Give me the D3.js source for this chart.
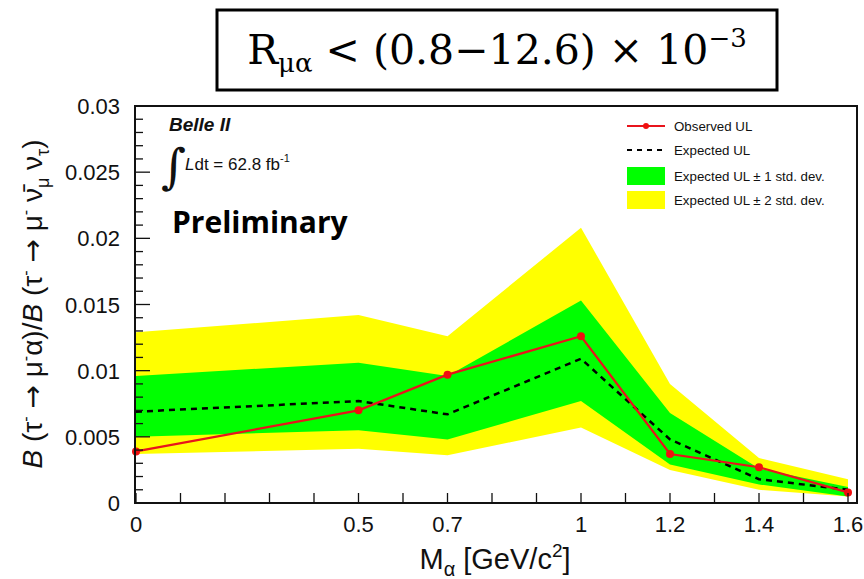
<!DOCTYPE html>
<html><head><meta charset="utf-8">
<script src="https://cdn.jsdelivr.net/npm/d3@7"></script>
<style>body{margin:0;background:#fff}svg{display:block}</style>
</head><body>
<svg id="c" width="864" height="579"></svg>
<script>
// ---- data ----
const masses = [0, 0.5, 0.7, 1.0, 1.2, 1.4, 1.6];
const observedUL = [0.0039, 0.0070, 0.0097, 0.0126, 0.0037, 0.0027, 0.0008];
const expectedUL = [0.0069, 0.0077, 0.0067, 0.0109, 0.0048, 0.0018, 0.0010];
const plus1sigma = [0.0096, 0.0106, 0.0096, 0.0153, 0.0068, 0.0026, 0.0012];
const minus1sigma = [0.0050, 0.0055, 0.0048, 0.0077, 0.0029, 0.0014, 0.0005];
const plus2sigma = [0.0129, 0.0142, 0.0126, 0.0208, 0.0090, 0.0034, 0.0018];
const minus2sigma = [0.0037, 0.0041, 0.0036, 0.0057, 0.0025, 0.0010, 0.0005];
const xTickLabels = ["0", "0.5", "0.7", "1", "1.2", "1.4", "1.6"];
const yTickLabels = ["0", "0.005", "0.01", "0.015", "0.02", "0.025", "0.03"];
const legendLabels = ["Observed UL", "Expected UL", "Expected UL \u00B1 1 std. dev.", "Expected UL \u00B1 2 std. dev."];

const svg = d3.select("#c");
const x = d3.scaleLinear().domain([0, 1.6]).range([136, 848]);
const y = d3.scaleLinear().domain([0, 0.03]).range([503, 106]);
const frame = {l: 135, r: 857, t: 106, b: 503};

// bands
const rows = masses.map((m, i) => ({m, o: observedUL[i], e: expectedUL[i], p1: plus1sigma[i], m1: minus1sigma[i], p2: plus2sigma[i], m2: minus2sigma[i]}));
svg.append("path").datum(rows).attr("fill", "#ffff00")
  .attr("d", d3.area().x(d => x(d.m)).y0(d => y(d.m2)).y1(d => y(d.p2)));
svg.append("path").datum(rows).attr("fill", "#00ff00")
  .attr("d", d3.area().x(d => x(d.m)).y0(d => y(d.m1)).y1(d => y(d.p1)));
svg.append("path").datum(rows).attr("fill", "none").attr("stroke", "#000").attr("stroke-width", 2.5)
  .attr("stroke-dasharray", "6,5")
  .attr("d", d3.line().x(d => x(d.m)).y(d => y(d.e)));
svg.append("path").datum(rows).attr("fill", "none").attr("stroke", "#e8141c").attr("stroke-width", 2.2)
  .attr("d", d3.line().x(d => x(d.m)).y(d => y(d.o)));
svg.selectAll("circle.obs").data(rows).join("circle").attr("class", "obs")
  .attr("cx", d => x(d.m)).attr("cy", d => y(d.o)).attr("r", 4).attr("fill", "#f01010");

// frame
svg.append("rect").attr("x", frame.l).attr("y", frame.t).attr("width", frame.r - frame.l).attr("height", frame.b - frame.t)
  .attr("fill", "none").attr("stroke", "#111").attr("stroke-width", 2);

// y ticks
const yMinor = d3.range(0, 0.03001, 0.001);
svg.append("g").selectAll("line").data(yMinor).join("line")
  .attr("x1", frame.l).attr("x2", (d, i) => frame.l + (i % 5 === 0 ? 15 : 8))
  .attr("y1", d => y(d)).attr("y2", d => y(d)).attr("stroke", "#111").attr("stroke-width", 1.3);
svg.append("g").selectAll("text").data(yTickLabels).join("text")
  .attr("x", 120).attr("y", (d, i) => y(i * 0.005) + 8).attr("text-anchor", "end")
  .attr("font-family", "Liberation Sans, Arial, sans-serif").attr("font-size", 22).attr("fill", "#111").text(d => d);

// x ticks
const xMinor = d3.range(0, 16.01, 1).map(v => v / 10);
svg.append("g").selectAll("line").data(xMinor).join("line")
  .attr("x1", d => x(d)).attr("x2", d => x(d)).attr("y1", frame.b).attr("y2", frame.b - 10)
  .attr("stroke", "#111").attr("stroke-width", 1.3);
svg.append("g").selectAll("text").data(xTickLabels).join("text")
  .attr("x", (d, i) => x(masses[i])).attr("y", 532).attr("text-anchor", "middle")
  .attr("font-family", "Liberation Sans, Arial, sans-serif").attr("font-size", 22).attr("fill", "#111").text(d => d);

// x label
const xl = svg.append("text").attr("x", 495).attr("y", 569).attr("text-anchor", "middle")
  .attr("font-family", "Liberation Sans, Arial, sans-serif").attr("font-size", 29).attr("fill", "#111");
xl.append("tspan").text("M");
xl.append("tspan").attr("font-size", 20).attr("dy", 7).text("\u03B1");
xl.append("tspan").attr("dy", -7).text(" [GeV/c");
xl.append("tspan").attr("font-size", 19).attr("dy", -12).text("2");
xl.append("tspan").attr("dy", 12).text("]");

// y label
const yl = svg.append("text").attr("transform", "translate(42,304) rotate(-90)").attr("text-anchor", "middle")
  .attr("font-family", "Liberation Sans, Arial, sans-serif").attr("font-size", 28).attr("fill", "#111");
const parts = [
  ["B", 0, "italic"], [" (\u03C4", 0], ["-", -11, null, 16], [" ", 11], ["\u2192", 0, null, null, "DejaVu Sans"], [" \u03BC", 0], ["-", -11, null, 16], ["\u03B1)/", 11],
  ["B", 0, "italic"], [" (\u03C4", 0], ["-", -11, null, 16], [" ", 11], ["\u2192", 0, null, null, "DejaVu Sans"], [" \u03BC", 0], ["-", -11, null, 16], [" \u03BD\u0304", 11],
  ["\u03BC", 7, null, 18], [" \u03BD", -7], ["\u03C4", 7, null, 18], [")", -7]
];
parts.forEach(p => {
  const t = yl.append("tspan").attr("dy", p[1]).text(p[0]);
  if (p[2]) t.attr("font-style", p[2]);
  if (p[3]) t.attr("font-size", p[3]);
  if (p[4]) t.attr("font-family", p[4]);
});

// legend
const lg = svg.append("g");
const lx1 = 627, lx2 = 665, ltx = 674;
const ly = [126, 150, 176, 200];
lg.append("line").attr("x1", lx1).attr("x2", lx2).attr("y1", ly[0]).attr("y2", ly[0]).attr("stroke", "#e8141c").attr("stroke-width", 2);
lg.append("circle").attr("cx", (lx1 + lx2) / 2).attr("cy", ly[0]).attr("r", 3).attr("fill", "#f01010");
lg.append("line").attr("x1", lx1).attr("x2", lx2).attr("y1", ly[1]).attr("y2", ly[1]).attr("stroke", "#000").attr("stroke-width", 2).attr("stroke-dasharray", "5,5");
lg.append("rect").attr("x", lx1).attr("y", ly[2] - 9).attr("width", lx2 - lx1).attr("height", 18).attr("fill", "#00ff00");
lg.append("rect").attr("x", lx1).attr("y", ly[3] - 9).attr("width", lx2 - lx1).attr("height", 18).attr("fill", "#ffff00");
lg.selectAll("text").data(legendLabels).join("text").attr("x", ltx).attr("y", (d, i) => ly[i] + 4.5)
  .attr("font-family", "Liberation Sans, Arial, sans-serif").attr("font-size", 13.3).attr("fill", "#111").text(d => d);

// annotations
svg.append("text").attr("x", 169).attr("y", 131).attr("font-family", "Liberation Sans, Arial, sans-serif")
  .attr("font-size", 19).attr("font-weight", "bold").attr("font-style", "italic").attr("fill", "#111").text("Belle II");
svg.append("text").attr("x", 161).attr("y", 183).attr("font-family", "DejaVu Serif, serif")
  .attr("font-size", 48).attr("fill", "#111").text("\u222B");
const ld = svg.append("text").attr("x", 185).attr("y", 170).attr("font-family", "Liberation Sans, Arial, sans-serif")
  .attr("font-size", 17).attr("fill", "#111");
ld.append("tspan").attr("font-style", "italic").text("L");
ld.append("tspan").text("dt = 62.8 fb");
ld.append("tspan").attr("font-size", 11).attr("dy", -8).text("-1");
svg.append("text").attr("x", 172).attr("y", 233).attr("font-family", "Open Sans, Lato, sans-serif")
  .attr("font-size", 30).attr("font-weight", "bold").attr("fill", "#000").text("Preliminary");

// title box
svg.append("rect").attr("x", 217).attr("y", 10).attr("width", 560).attr("height", 80)
  .attr("fill", "#fff").attr("stroke", "#000").attr("stroke-width", 3);
const tt = svg.append("text").attr("x", 497).attr("y", 64).attr("text-anchor", "middle")
  .attr("font-family", "DejaVu Serif, Liberation Serif, serif").attr("font-size", 41).attr("fill", "#000");
tt.append("tspan").text("R");
tt.append("tspan").attr("font-size", 26).attr("dy", 8).text("\u03BC\u03B1");
tt.append("tspan").attr("dy", -8).text(" < (0.8\u221212.6) \u00D7 10");
tt.append("tspan").attr("font-size", 26).attr("dy", -17).text("\u22123");
</script>
</body></html>
